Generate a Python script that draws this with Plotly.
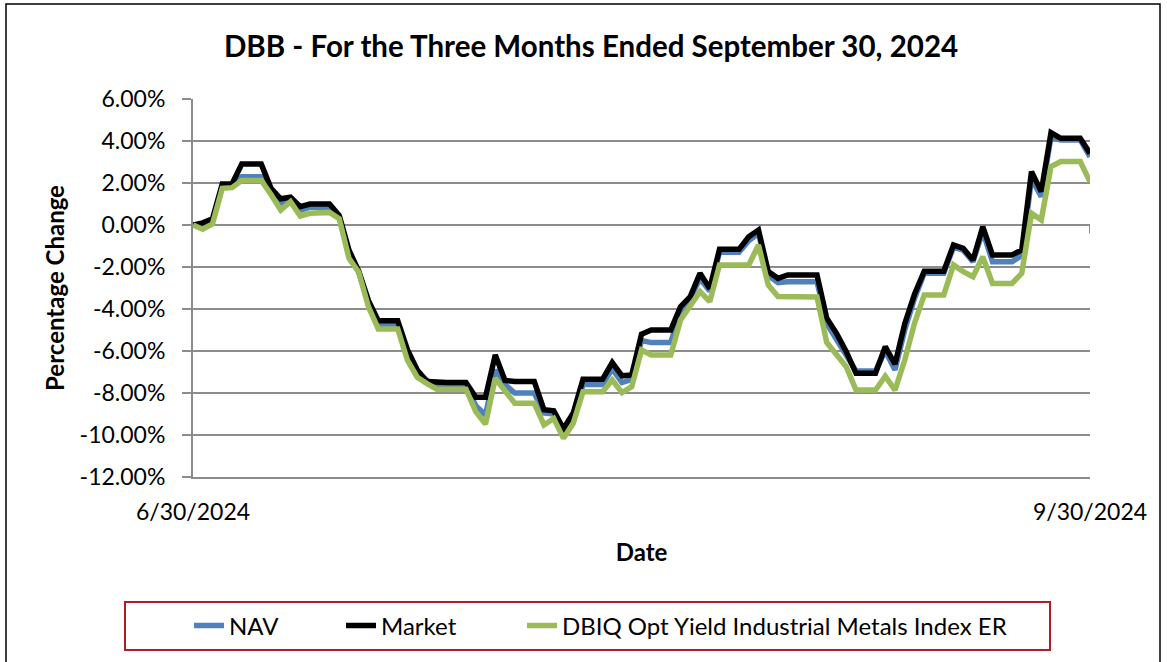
import pandas as pd
import plotly.graph_objects as go

# ---------------- data ----------------
start_date = "2024-06-30"
end_date = "2024-09-30"
dates = pd.date_range(start_date, end_date, freq="D")

series_names = ["NAV", "Market", "DBIQ Opt Yield Industrial Metals Index ER"]

nav = [
    0.00, 0.05, 0.20, 1.85, 1.85, 2.30, 2.30, 2.30, 1.60, 1.05,
    1.20, 0.70, 0.85, 0.85, 0.85, 0.35, -1.35, -2.25, -3.75, -4.75,
    -4.75, -4.75, -6.15, -7.05, -7.40, -7.60, -7.60, -7.60, -7.60, -8.60,
    -9.05, -6.90, -7.60, -8.00, -8.00, -8.00, -8.95, -9.00, -9.90, -9.10,
    -7.60, -7.60, -7.60, -6.85, -7.50, -7.35, -5.50, -5.60, -5.60, -5.60,
    -4.10, -3.50, -2.55, -3.15, -1.30, -1.30, -1.30, -0.75, -0.40, -2.40,
    -2.75, -2.70, -2.70, -2.70, -2.70, -4.70, -5.40, -6.20, -6.95, -6.95,
    -6.95, -6.00, -6.90, -5.00, -3.50, -2.30, -2.30, -2.30, -1.05, -1.20,
    -1.75, -0.30, -1.75, -1.75, -1.75, -1.45, 2.20, 1.35, 4.20, 4.05,
    4.05, 4.05, 3.25,
]

market = [
    0.00, 0.10, 0.30, 1.95, 1.95, 2.90, 2.90, 2.90, 1.75, 1.25,
    1.32, 0.87, 1.00, 1.00, 1.00, 0.45, -1.20, -2.20, -3.60, -4.56,
    -4.56, -4.56, -5.95, -6.90, -7.45, -7.50, -7.50, -7.50, -7.50, -8.20,
    -8.20, -6.19, -7.40, -7.45, -7.45, -7.45, -8.80, -8.85, -9.70, -8.95,
    -7.35, -7.35, -7.35, -6.55, -7.18, -7.14, -5.20, -5.00, -5.00, -5.00,
    -3.89, -3.41, -2.30, -3.02, -1.16, -1.16, -1.16, -0.56, -0.24, -2.22,
    -2.54, -2.38, -2.38, -2.38, -2.38, -4.44, -5.16, -6.03, -7.06, -7.06,
    -7.06, -5.79, -6.63, -4.70, -3.30, -2.20, -2.20, -2.20, -0.95, -1.11,
    -1.67, -0.08, -1.43, -1.43, -1.43, -1.19, 2.54, 1.59, 4.40, 4.13,
    4.13, 4.13, 3.41,
]

index_er = [
    0.00, -0.20, 0.05, 1.75, 1.78, 2.12, 2.12, 2.12, 1.45, 0.71,
    1.11, 0.43, 0.56, 0.60, 0.60, 0.30, -1.59, -2.25, -3.90, -4.95,
    -4.95, -4.95, -6.45, -7.25, -7.55, -7.82, -7.82, -7.82, -7.82, -8.89,
    -9.48, -7.30, -7.86, -8.49, -8.49, -8.49, -9.52, -9.21, -10.16, -9.44,
    -7.94, -7.94, -7.94, -7.38, -7.98, -7.70, -5.95, -6.19, -6.19, -6.19,
    -4.52, -3.89, -3.17, -3.65, -1.90, -1.90, -1.90, -1.90, -0.95, -2.86,
    -3.41, -3.43, -3.43, -3.43, -3.43, -5.60, -6.19, -6.75, -7.86, -7.86,
    -7.86, -7.20, -7.86, -6.43, -4.68, -3.33, -3.33, -3.33, -1.90, -2.22,
    -2.46, -1.51, -2.78, -2.78, -2.78, -2.30, 0.56, 0.24, 2.78, 3.02,
    3.02, 3.02, 2.06,
]

y_tick_values = [6, 4, 2, 0, -2, -4, -6, -8, -10, -12]
y_tick_labels = [f"{v:.2f}%" for v in y_tick_values]
x_tick_values = [start_date, end_date]
x_tick_labels = ["6/30/2024", "9/30/2024"]

title_text = "DBB - For the Three Months Ended September 30, 2024"
y_title = "Percentage Change"
x_title = "Date"

# ---------------- style ----------------
W, H = 1167, 662
L, R, T, B = 193, 1090, 99, 477  # plot area in px
FONT = "Lato, 'Open Sans', sans-serif"
GRID = "#8C8C8C"
colors = ["#4F81BD", "#000000", "#9BBB59"]
legend_ids = ["legend", "legend2", "legend3"]
legend_text_px = [229, 381, 562]  # left edge of each legend label


def px_x(p):
    return (p - L) / (R - L)


def px_y(p):
    return (B - p) / (B - T)


fig = go.Figure()
for name, vals, col, lg in zip(series_names, [nav, market, index_er], colors, legend_ids):
    fig.add_trace(go.Scatter(
        x=dates, y=vals, name=name, mode="lines", legend=lg,
        line=dict(color=col, width=5.5),
    ))

legend_common = dict(
    orientation="h", xanchor="left", y=px_y(626), yanchor="middle",
    font=dict(family=FONT, size=24, color="black"),
    bgcolor="rgba(0,0,0,0)", borderwidth=0,
)

fig.update_layout(
    width=W, height=H,
    margin=dict(l=L, r=W - R, t=T, b=H - B, pad=0),
    paper_bgcolor="white", plot_bgcolor="white",
    font=dict(family=FONT, color="black", size=24),
    title=dict(
        text=title_text, x=591 / W, xref="container", xanchor="center",
        y=1 - 47 / H, yref="container", yanchor="middle",
        font=dict(family=FONT, size=29.5, weight="bold", color="black"),
    ),
    showlegend=True,
    legend=dict(x=px_x(legend_text_px[0] - 40), **legend_common),
    legend2=dict(x=px_x(legend_text_px[1] - 40), **legend_common),
    legend3=dict(x=px_x(legend_text_px[2] - 40), **legend_common),
    xaxis=dict(
        type="date", range=[start_date, end_date],
        tickmode="array", tickvals=x_tick_values, ticktext=x_tick_labels,
        showgrid=False, zeroline=False,
        showline=True, linecolor=GRID, linewidth=2,
        ticks="", ticklabelstandoff=13,
        tickfont=dict(family=FONT, size=23, color="black"),
        title=dict(text=x_title, standoff=21,
                   font=dict(family=FONT, size=24, weight="bold", color="black")),
    ),
    yaxis=dict(
        range=[-12, 6], tickmode="array",
        tickvals=y_tick_values, ticktext=y_tick_labels,
        showgrid=True, gridcolor=GRID, gridwidth=2,
        zeroline=False, showline=True, linecolor=GRID, linewidth=2,
        ticks="outside", ticklen=9, tickcolor=GRID, tickwidth=2,
        ticklabelstandoff=12,
        tickfont=dict(family=FONT, size=23, color="black"),
        title=dict(text=y_title, standoff=8,
                   font=dict(family=FONT, size=24, weight="bold", color="black")),
    ),
    shapes=[
        # outer chart border
        dict(type="rect", xref="paper", yref="paper",
             x0=px_x(6), x1=px_x(1160), y0=px_y(670), y1=px_y(4),
             line=dict(color="black", width=1.5), fillcolor="rgba(0,0,0,0)",
             layer="below"),
        # legend box
        dict(type="rect", xref="paper", yref="paper",
             x0=px_x(125), x1=px_x(1050), y0=px_y(650), y1=px_y(602),
             line=dict(color="#B01E23", width=2), fillcolor="rgba(0,0,0,0)"),
        # small tick mark on the horizontal axis crossing at 0
        dict(type="line", xref="x", yref="y",
             x0=end_date, x1=end_date, y0=0, y1=-0.4,
             line=dict(color=GRID, width=2), layer="below"),
    ],
)

fig.write_html(
    "out.html",
    config={"displayModeBar": False},
    post_script="document.body.style.margin='0px';",
)
